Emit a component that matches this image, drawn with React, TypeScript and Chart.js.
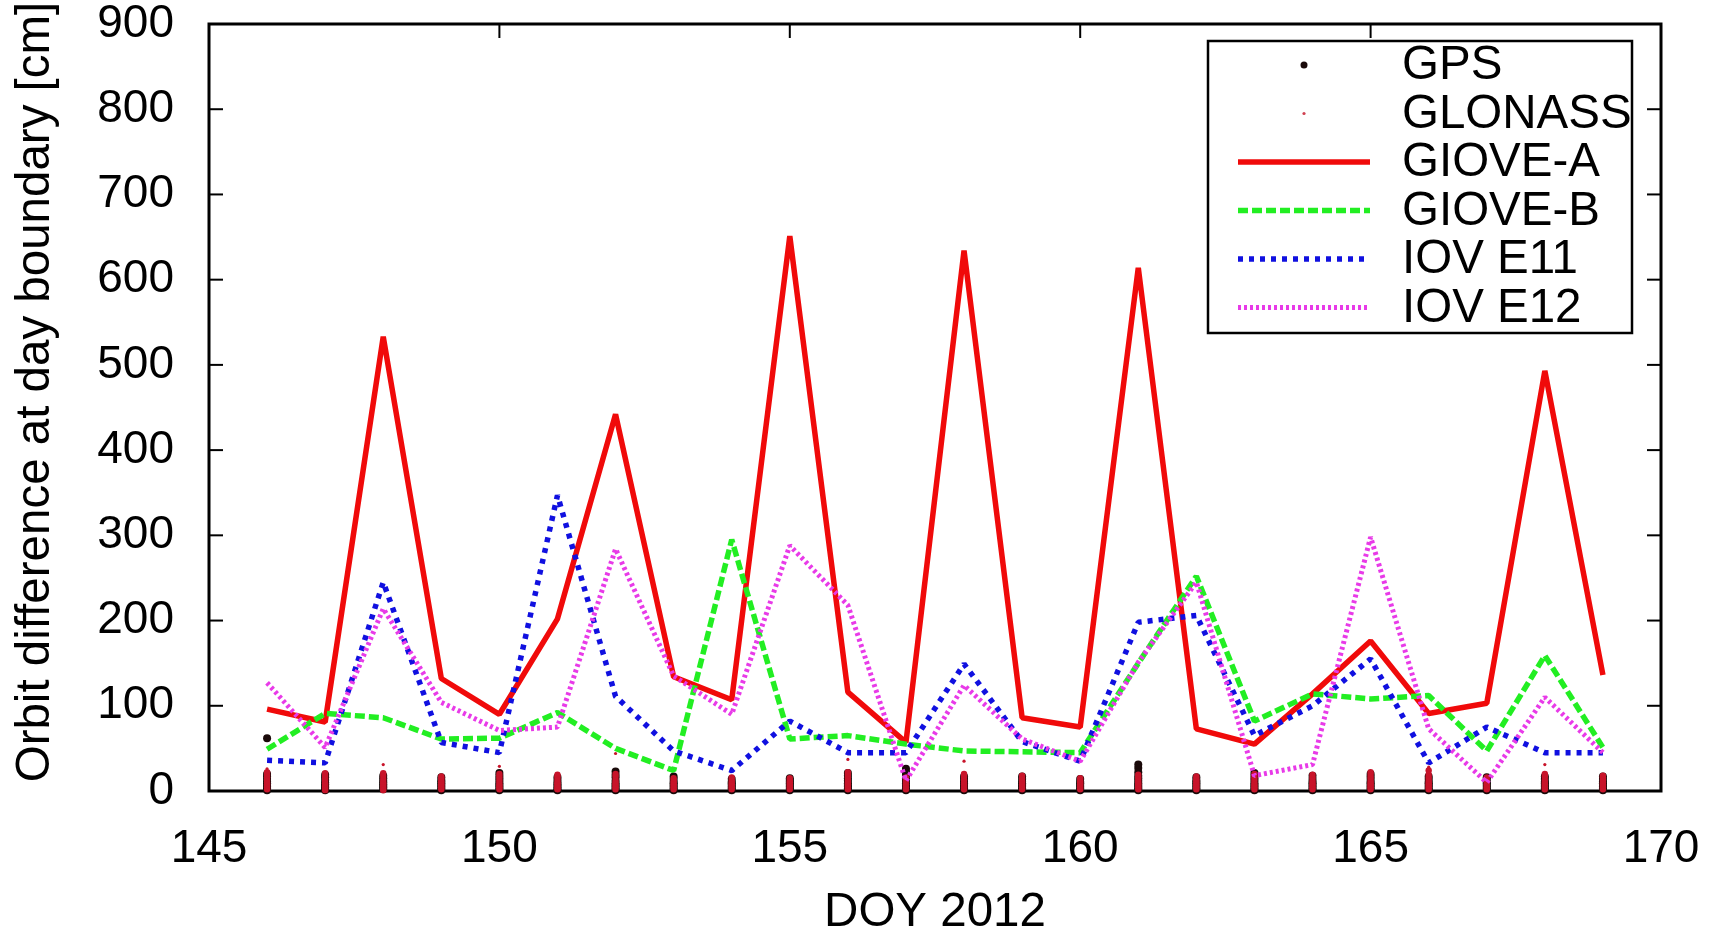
import React, { useEffect, useRef } from "react";
import { Chart, registerables } from "chart.js";

Chart.register(...registerables);

// Day of year 2012
const days = [146, 147, 148, 149, 150, 151, 152, 153, 154, 155, 156, 157, 158, 159, 160, 161, 162, 163, 164, 165, 166, 167, 168, 169];

// Orbit difference at the day boundary, cm
const gioveA = [96, 81, 533, 132, 90, 202, 442, 134, 107, 651, 116, 57, 634, 86, 75, 614, 73, 55, 114, 176, 91, 103, 493, 136];
const gioveB = [49, 91, 86, 61, 62, 92, 50, 24, 295, 61, 65, 55, 47, 46, 45, 150, 252, 82, 114, 108, 112, 47, 159, 51];
const iovE11 = [36, 33, 245, 57, 45, 347, 111, 47, 24, 82, 45, 45, 149, 58, 35, 198, 206, 65, 100, 155, 33, 75, 45, 45];
const iovE12 = [127, 51, 214, 104, 71, 75, 284, 135, 90, 288, 218, 12, 124, 61, 35, 151, 245, 18, 31, 298, 73, 10, 110, 45];

// Per-satellite values for each day (GPS and GLONASS constellations)
const gpsDaily: number[][] = [
  [1, 3, 5, 7, 9, 11, 14, 17, 20, 62],
  [1, 2, 4, 6, 8, 10, 13, 16, 19],
  [2, 4, 6, 8, 10, 12, 15, 18],
  [1, 3, 5, 7, 9, 11, 13, 16],
  [1, 3, 5, 7, 9, 12, 15, 18, 21],
  [1, 2, 4, 6, 8, 10, 13, 16],
  [1, 3, 5, 7, 9, 12, 16, 19, 23],
  [1, 3, 5, 7, 9, 11, 14, 17],
  [1, 3, 5, 7, 9, 11, 14],
  [1, 3, 5, 7, 9, 11, 13, 15],
  [1, 3, 5, 7, 9, 12, 15, 18, 21],
  [1, 3, 5, 7, 9, 12, 15, 19, 23, 26],
  [1, 3, 5, 7, 9, 11, 14, 17],
  [1, 3, 5, 7, 9, 11, 14, 17],
  [1, 3, 5, 7, 9, 11, 14],
  [1, 3, 5, 7, 9, 12, 15, 18, 22, 27, 31],
  [1, 3, 5, 7, 9, 11, 13, 16],
  [1, 3, 5, 7, 9, 12, 15, 18, 21],
  [1, 3, 5, 7, 9, 11, 14, 18],
  [1, 3, 5, 7, 9, 11, 14, 17, 20],
  [1, 3, 5, 7, 9, 11, 14, 17],
  [1, 3, 5, 7, 9, 11, 14, 16],
  [1, 3, 5, 7, 9, 11, 14, 17],
  [1, 3, 5, 7, 9, 11, 14, 17],
];
const glonassDaily: number[][] = [
  [2, 4, 6, 8, 10, 13, 16, 19, 22, 26],
  [1, 3, 5, 7, 9, 12, 15, 18, 21],
  [1, 3, 5, 7, 9, 11, 14, 18, 21, 31],
  [2, 4, 6, 8, 10, 12, 15, 17],
  [2, 4, 6, 8, 11, 14, 17, 20, 29],
  [2, 3, 5, 7, 9, 11, 14, 17, 19],
  [2, 4, 6, 8, 10, 13, 17, 20, 44],
  [2, 4, 6, 8, 10, 12, 15],
  [2, 4, 6, 8, 10, 13, 16],
  [2, 4, 6, 8, 10, 12, 15],
  [2, 4, 6, 8, 10, 13, 16, 19, 22, 37],
  [2, 4, 6, 8, 10, 13, 16],
  [2, 4, 6, 8, 10, 13, 17, 20, 35],
  [2, 4, 6, 8, 10, 12, 15, 18],
  [2, 4, 6, 8, 10, 12, 15],
  [2, 4, 6, 8, 10, 13, 16, 19],
  [2, 4, 6, 8, 10, 12, 14, 17],
  [2, 4, 6, 8, 11, 14, 17, 20],
  [2, 4, 6, 8, 10, 13, 16, 19],
  [2, 4, 6, 8, 10, 13, 16, 19, 22],
  [2, 4, 6, 8, 10, 13, 16, 19, 24, 28],
  [2, 4, 6, 8, 10, 13, 16],
  [2, 4, 6, 8, 10, 13, 17, 20, 31],
  [2, 4, 6, 8, 10, 13, 16, 18],
];

const xTicks = [145, 150, 155, 160, 165, 170];
const yTicks = [0, 100, 200, 300, 400, 500, 600, 700, 800, 900];

const yTitle = "Orbit difference at day boundary [cm]";
const xTitle = "DOY 2012";

const FONT = "'Liberation Sans', Arial, Helvetica, sans-serif";
const TICK_SIZE = 46;
const TITLE_SIZE = 47.5;
const KEY_SIZE = 47.5;

const toPoints = (vals: number[]) => days.map((d, i) => ({ x: d, y: vals[i] }));
const toScatter = (perDay: number[][]) =>
  perDay.flatMap((vals, i) => vals.map((v) => ({ x: days[i], y: v })));

// Frame with inward (mirrored) tick marks, gnuplot style
const framePlugin = {
  id: "gpFrame",
  beforeDatasetsDraw(chart: any) {
    const { ctx, chartArea: a, scales } = chart;
    const tick = 14;
    ctx.save();
    ctx.strokeStyle = "#000";
    ctx.lineWidth = 2;
    const seg = (x1: number, y1: number, x2: number, y2: number) => {
      ctx.beginPath();
      ctx.moveTo(x1, y1);
      ctx.lineTo(x2, y2);
      ctx.stroke();
    };
    for (const v of yTicks) {
      const y = scales.y.getPixelForValue(v);
      seg(a.left, y, a.left + tick, y);
      seg(a.right, y, a.right - tick, y);
    }
    for (const v of xTicks) {
      const x = scales.x.getPixelForValue(v);
      seg(x, a.bottom, x, a.bottom - tick);
      seg(x, a.top, x, a.top + tick);
    }
    ctx.lineWidth = 3;
    ctx.strokeRect(a.left, a.top, a.right - a.left, a.bottom - a.top);
    ctx.restore();
  },
  afterDraw(chart: any) {
    // rotated y-axis title
    const { ctx } = chart;
    ctx.save();
    ctx.translate(35.5, 392);
    ctx.rotate(-Math.PI / 2);
    ctx.font = `${TITLE_SIZE}px ${FONT}`;
    ctx.fillStyle = "#000";
    ctx.textAlign = "center";
    ctx.textBaseline = "middle";
    ctx.fillText(yTitle, 0, 0);
    ctx.restore();
  },
};

// Boxed key in the upper right corner: sample on the left, label on the right
const keyPlugin = {
  id: "gpKey",
  afterDraw(chart: any) {
    const { ctx, chartArea: a } = chart;
    const right = a.right - 29;
    const left = right - 424;
    const top = a.top + 17;
    const rowH = 48.5;
    const sets = chart.data.datasets;
    const bottom = top + rowH * sets.length + 1;
    ctx.save();
    ctx.fillStyle = "#fff";
    ctx.fillRect(left, top, right - left, bottom - top);
    ctx.strokeStyle = "#000";
    ctx.lineWidth = 2.5;
    ctx.strokeRect(left, top, right - left, bottom - top);
    ctx.font = `${KEY_SIZE}px ${FONT}`;
    ctx.textBaseline = "middle";
    ctx.textAlign = "left";
    sets.forEach((ds: any, i: number) => {
      const y = top + 24 + i * rowH;
      const sx1 = left + 30;
      const sx2 = left + 162;
      if (ds.showLine === false) {
        ctx.fillStyle = ds.legendColor || ds.pointBackgroundColor;
        ctx.beginPath();
        ctx.arc((sx1 + sx2) / 2, y, ds.legendRadius, 0, Math.PI * 2);
        ctx.fill();
      } else {
        ctx.strokeStyle = ds.borderColor;
        ctx.lineWidth = ds.borderWidth;
        ctx.setLineDash(ds.borderDash || []);
        ctx.beginPath();
        ctx.moveTo(sx1, y);
        ctx.lineTo(sx2, y);
        ctx.stroke();
        ctx.setLineDash([]);
      }
      ctx.fillStyle = "#000";
      ctx.fillText(ds.label, left + 194, y + 1);
    });
    ctx.restore();
  },
};

export default function App() {
  const canvasRef = useRef<HTMLCanvasElement | null>(null);

  useEffect(() => {
    document.body.style.margin = "0";
    const canvas = canvasRef.current;
    if (!canvas) return;
    const lineCommon = {
      showLine: true,
      pointRadius: 0,
      tension: 0,
      borderWidth: 5,
      borderJoinStyle: "bevel" as const,
      borderCapStyle: "butt" as const,
      fill: false,
    };
    const chart = new Chart(canvas, {
      type: "scatter",
      data: {
        datasets: [
          {
            label: "GPS",
            data: toScatter(gpsDaily),
            showLine: false,
            pointRadius: 4,
            pointBackgroundColor: "#1a0a0a",
            pointBorderWidth: 0,
            legendRadius: 3.5,
            clip: false,
            order: 6,
          } as any,
          {
            label: "GLONASS",
            data: toScatter(glonassDaily),
            showLine: false,
            pointRadius: (c: any) => (c.raw && c.raw.y > 24 ? 1.6 : 3.2),
            pointBackgroundColor: "#c8142a",
            pointBorderWidth: 0,
            legendRadius: 1.6,
            legendColor: "#d04050",
            clip: false,
            order: 5,
          } as any,
          { ...lineCommon, label: "GIOVE-A", data: toPoints(gioveA), borderColor: "#f00a0a", borderWidth: 5.5, order: 4 },
          { ...lineCommon, label: "GIOVE-B", data: toPoints(gioveB), borderColor: "#22ee22", borderWidth: 5.5, borderDash: [10, 4], order: 3 },
          { ...lineCommon, label: "IOV E11", data: toPoints(iovE11), borderColor: "#1010e0", borderWidth: 5.5, borderDash: [5, 6], order: 2 },
          { ...lineCommon, label: "IOV E12", data: toPoints(iovE12), borderColor: "#e83ae8", borderDash: [3, 3], order: 1 },
        ],
      },
      options: {
        animation: false,
        responsive: false,
        maintainAspectRatio: false,
        events: [],
        layout: { padding: { left: 0, top: 24, right: 58, bottom: 0 } },
        plugins: {
          legend: { display: false },
          tooltip: { enabled: false },
        },
        scales: {
          x: {
            type: "linear",
            min: 145,
            max: 170,
            grid: { display: false, drawTicks: false },
            border: { display: false },
            afterBuildTicks: (s: any) => {
              s.ticks = xTicks.map((v) => ({ value: v }));
            },
            afterFit: (s: any) => {
              s.height = 143;
              s.paddingLeft = 0;
              s.paddingRight = 0;
            },
            ticks: {
              color: "#000",
              padding: 31,
              maxRotation: 0,
              autoSkip: false,
              font: { family: FONT, size: TICK_SIZE },
            },
            title: {
              display: true,
              text: xTitle,
              color: "#000",
              font: { family: FONT, size: TITLE_SIZE, lineHeight: 0.87 },
              padding: { top: 0, bottom: 0 },
            },
          },
          y: {
            type: "linear",
            min: 0,
            max: 900,
            grid: { display: false, drawTicks: false },
            border: { display: false },
            afterBuildTicks: (s: any) => {
              s.ticks = yTicks.map((v) => ({ value: v }));
            },
            afterFit: (s: any) => {
              s.width = 209;
              s.paddingTop = 0;
              s.paddingBottom = 0;
            },
            ticks: {
              color: "#000",
              padding: 35,
              font: { family: FONT, size: TICK_SIZE },
            },
          },
        },
      } as any,
      plugins: [framePlugin, keyPlugin],
    });
    return () => chart.destroy();
  }, []);

  return (
    <div style={{ position: "absolute", left: 0, top: 0, width: 1719, height: 934, background: "#fff", overflow: "hidden" }}>
      <canvas ref={canvasRef} width={1719} height={934} style={{ width: 1719, height: 934, display: "block" }} />
    </div>
  );
}
